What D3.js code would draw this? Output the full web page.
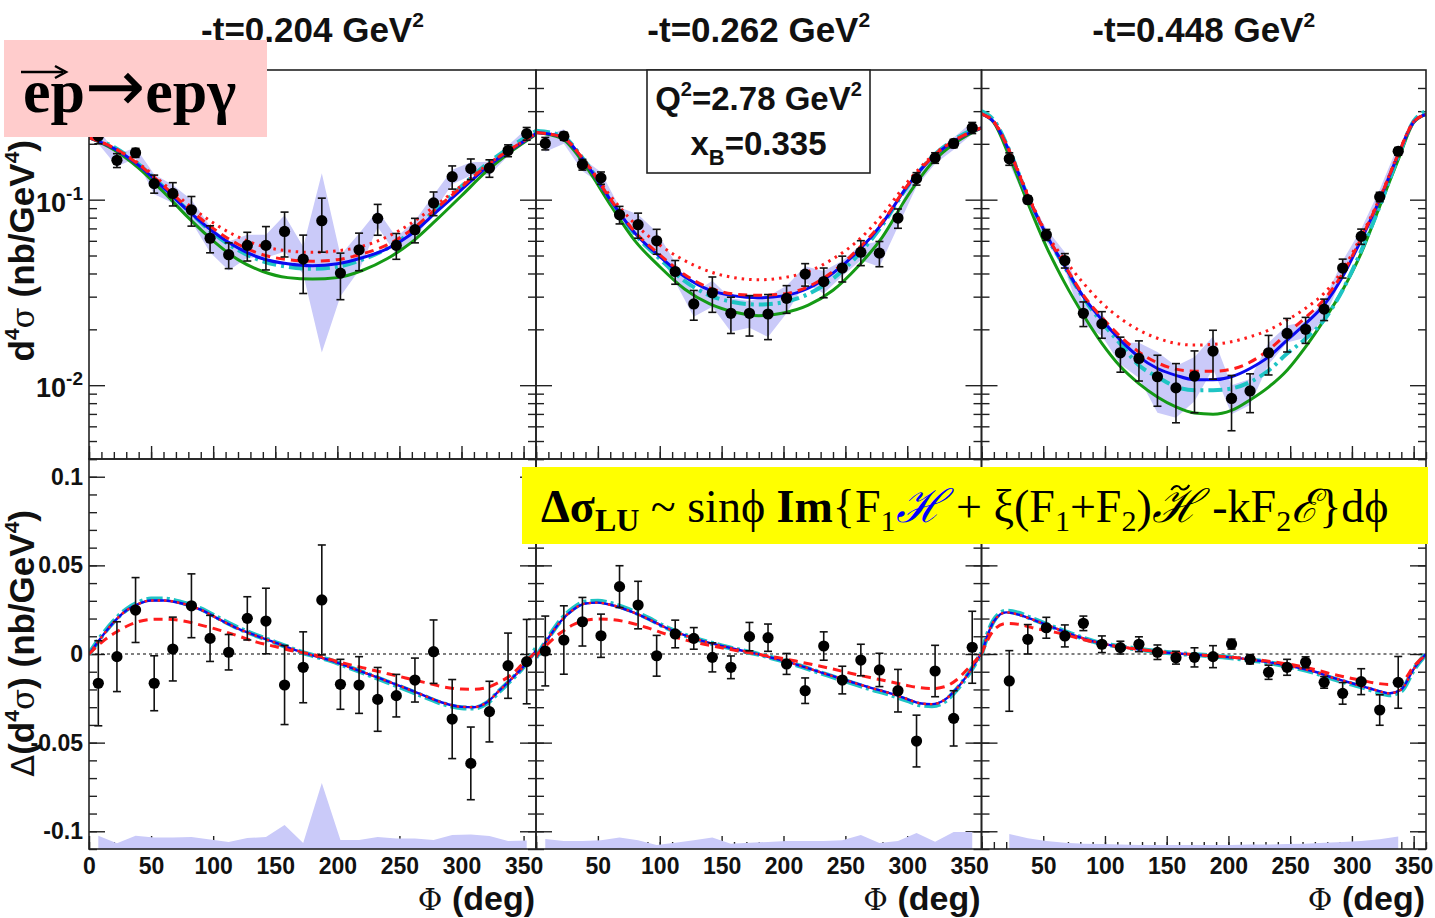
<!DOCTYPE html>
<html>
<head>
<meta charset="utf-8">
<script src="https://cdn.jsdelivr.net/npm/d3@7"></script>
<style>
  body { margin: 0; background: #fff; }
  svg { display: block; }
</style>
</head>
<body>
<svg width="1435" height="918" font-family="'Liberation Sans', Arial, sans-serif"></svg>
<script>
// Phi bin centres (deg), 15 deg bins
const phiBins = [7.5, 22.5, 37.5, 52.5, 67.5, 82.5, 97.5, 112.5, 127.5, 142.5, 157.5, 172.5,
  187.5, 202.5, 217.5, 232.5, 247.5, 262.5, 277.5, 292.5, 307.5, 322.5, 337.5, 352.5]
const tValues = ['0.204', '0.262', '0.448']

// ---- top row: d4sigma (nb/GeV^4), stat error, syst error
const xs204 = [0.22, 0.163, 0.179, 0.122, 0.108, 0.088, 0.062, 0.0505, 0.0567, 0.0567, 0.0674, 0.0478,
  0.077, 0.0402, 0.0537, 0.0793, 0.0567, 0.0689, 0.096, 0.133, 0.147, 0.148, 0.184, 0.227]
const xs204Err = [0.02, 0.014, 0.01, 0.0136, 0.0155, 0.016, 0.0103, 0.008, 0.010, 0.0149, 0.0183, 0.0166,
  0.0249, 0.0113, 0.0123, 0.015, 0.009, 0.0104, 0.014, 0.019, 0.0187, 0.016, 0.0135, 0.018]
const xs204Sys = [0.02, 0.012, 0.012, 0.015, 0.012, 0.012, 0.01, 0.009, 0.008, 0.008, 0.015, 0.008,
  0.062, 0.01, 0.012, 0.008, 0.006, 0.008, 0.01, 0.012, 0.012, 0.012, 0.012, 0.015]

const xs262 = [0.201, 0.22, 0.1546, 0.131, 0.083, 0.0733, 0.060, 0.041, 0.0274, 0.0315, 0.0244, 0.0244,
  0.0242, 0.0294, 0.0397, 0.0362, 0.0428, 0.0521, 0.0515, 0.0796, 0.1298, 0.168, 0.201, 0.244]
const xs262Err = [0.0155, 0.011, 0.0103, 0.01, 0.009, 0.0113, 0.0092, 0.006, 0.005, 0.0068, 0.0054, 0.006,
  0.0066, 0.005, 0.0055, 0.0066, 0.0068, 0.008, 0.008, 0.0095, 0.01, 0.011, 0.0104, 0.0168]
const xs262Sys = [0.02, 0.02, 0.012, 0.01, 0.008, 0.01, 0.007, 0.005, 0.004, 0.005, 0.005, 0.004,
  0.006, 0.005, 0.004, 0.005, 0.004, 0.005, 0.008, 0.008, 0.012, 0.012, 0.015, 0.018]

const xs448 = [null, 0.166, 0.1, 0.0647, 0.047, 0.0244, 0.0214, 0.01495, 0.01393, 0.0111, 0.00967, 0.0112,
  0.01527, 0.00848, 0.00931, 0.01495, 0.019, 0.02, 0.0257, 0.0428, 0.0634, 0.1035, 0.1824, null]
const xs448Err = [null, 0.0128, 0.0046, 0.0044, 0.0042, 0.0037, 0.0035, 0.0032, 0.0034, 0.0034, 0.0034, 0.0041,
  0.0045, 0.0028, 0.0022, 0.0036, 0.0039, 0.0032, 0.0034, 0.005, 0.006, 0.006, 0.0087, null]
const xs448Sys = [null, 0.01, 0.006, 0.005, 0.005, 0.003, 0.003, 0.002, 0.003, 0.004, 0.003, 0.003,
  0.003, 0.0015, 0.0015, 0.002, 0.002, 0.002, 0.003, 0.004, 0.006, 0.01, 0.015, null]

// model curves, top row
const phiTopA = [0, 20, 40, 60, 80, 100, 120, 140, 160, 180, 200, 220, 240, 260, 280, 300, 320, 340, 360]
const phiTopB = [0, 10, 22.5, 37.5, 52.5, 67.5, 82.5, 97.5, 112.5, 127.5, 142.5, 157.5, 172.5, 187.5,
  202.5, 217.5, 232.5, 247.5, 262.5, 277.5, 292.5, 307.5, 322.5, 337.5, 350, 360]

const t204Blue = [0.216, 0.189, 0.153, 0.116, 0.087, 0.0672, 0.055, 0.048, 0.0451, 0.044, 0.0451, 0.0486, 0.0543, 0.0655, 0.0861, 0.1132, 0.149, 0.186, 0.227]
const t204Dot = [0.216, 0.19, 0.157, 0.122, 0.094, 0.075, 0.063, 0.056, 0.053, 0.052, 0.053, 0.056, 0.063, 0.075, 0.094, 0.119, 0.153, 0.188, 0.227]
const t204Dash = [0.216, 0.19, 0.155, 0.119, 0.09, 0.070, 0.0575, 0.0505, 0.0475, 0.0466, 0.0475, 0.051, 0.057, 0.069, 0.090, 0.117, 0.152, 0.188, 0.227]
const t204Cyan = [0.22, 0.192, 0.155, 0.117, 0.087, 0.066, 0.0535, 0.0465, 0.0435, 0.0424, 0.0435, 0.0475, 0.0545, 0.0675, 0.0895, 0.118, 0.155, 0.193, 0.235]
const t204Green = [0.216, 0.186, 0.148, 0.110, 0.080, 0.060, 0.0475, 0.041, 0.038, 0.0373, 0.038, 0.0415, 0.048, 0.059, 0.078, 0.105, 0.142, 0.182, 0.225]

const t262Blue = [0.23, 0.219, 0.158, 0.1, 0.066, 0.0494, 0.0385, 0.0326, 0.0303, 0.0296, 0.0303, 0.0333, 0.0402, 0.0526, 0.0748, 0.118, 0.168, 0.211, 0.244]
const t262Dot = [0.23, 0.219, 0.16, 0.105, 0.074, 0.057, 0.047, 0.041, 0.038, 0.037, 0.038, 0.041, 0.048, 0.060, 0.083, 0.124, 0.172, 0.212, 0.244]
const t262Dash = [0.23, 0.219, 0.159, 0.101, 0.067, 0.0505, 0.0395, 0.0335, 0.031, 0.0305, 0.031, 0.034, 0.041, 0.054, 0.076, 0.119, 0.169, 0.212, 0.244]
const t262Cyan = [0.235, 0.222, 0.16, 0.10, 0.065, 0.048, 0.0365, 0.0305, 0.028, 0.0272, 0.028, 0.031, 0.0375, 0.050, 0.073, 0.117, 0.17, 0.215, 0.25]
const t262Green = [0.23, 0.215, 0.152, 0.094, 0.060, 0.0435, 0.033, 0.0275, 0.0248, 0.0237, 0.0245, 0.027, 0.0325, 0.0435, 0.063, 0.104, 0.158, 0.205, 0.244]

const t448Blue = [0.29, 0.262, 0.1824, 0.1042, 0.0647, 0.0436, 0.030, 0.0225, 0.0175, 0.0142, 0.0123, 0.0113, 0.0107, 0.0107, 0.0111, 0.0123, 0.0142, 0.0175, 0.0215, 0.0271, 0.0385, 0.0608, 0.1, 0.175, 0.262, 0.288]
const t448Dot = [0.29, 0.264, 0.185, 0.107, 0.066, 0.0474, 0.0355, 0.0277, 0.0229, 0.0198, 0.0179, 0.0168, 0.01645, 0.0166, 0.01714, 0.01824, 0.0198, 0.02246, 0.026, 0.0313, 0.0418, 0.0635, 0.102, 0.177, 0.263, 0.288]
const t448Dash = [0.29, 0.262, 0.183, 0.105, 0.065, 0.0442, 0.0306, 0.0232, 0.0183, 0.0151, 0.0132, 0.0122, 0.0119, 0.0119, 0.0122, 0.0133, 0.0155, 0.019, 0.0232, 0.029, 0.040, 0.062, 0.101, 0.176, 0.262, 0.288]
const t448Cyan = [0.30, 0.268, 0.185, 0.104, 0.064, 0.0432, 0.0295, 0.0218, 0.0167, 0.0128, 0.0111, 0.0098, 0.0094, 0.0094, 0.0096, 0.0104, 0.012, 0.0148, 0.0178, 0.0225, 0.0326, 0.053, 0.092, 0.17, 0.265, 0.30]
const t448Green = [0.29, 0.26, 0.171, 0.096, 0.0559, 0.0355, 0.0239, 0.0168, 0.0126, 0.0102, 0.00864, 0.00763, 0.00707, 0.00697, 0.00731, 0.00833, 0.00977, 0.01205, 0.0161, 0.0225, 0.0326, 0.0515, 0.092, 0.164, 0.26, 0.288]

// ---- bottom row: delta(d4sigma) (nb/GeV^4)
const dxs204 = [-0.0165, -0.0015, 0.0248, -0.0165, 0.0028, 0.0272, 0.0088, 0.001, 0.0201, 0.0186, -0.0175, -0.0075,
  0.0305, -0.0171, -0.0175, -0.0256, -0.0235, -0.0147, 0.0013, -0.0367, -0.0617, -0.0325, -0.0066, -0.0043]
const dxs204Err = [0.024, 0.0197, 0.0183, 0.0155, 0.018, 0.018, 0.013, 0.01, 0.0122, 0.0185, 0.0223, 0.020,
  0.031, 0.0141, 0.016, 0.018, 0.012, 0.0124, 0.0179, 0.0223, 0.0205, 0.0171, 0.0184, 0.0238]
const dxs204Sys = [0.0075, 0.0032, 0.0075, 0.0065, 0.0065, 0.0068, 0.0054, 0.004, 0.0062, 0.0068, 0.0135, 0.0034,
  0.0372, 0.0051, 0.0051, 0.0068, 0.0059, 0.0059, 0.0051, 0.0079, 0.0082, 0.0073, 0.0045, 0.0048]

const dxs262 = [0.0017, 0.0079, 0.0182, 0.0103, 0.038, 0.0276, -0.001, 0.0113, 0.0088, -0.0019, -0.0075, 0.0098,
  0.0092, -0.0056, -0.0207, 0.0045, -0.0147, -0.0034, -0.009, -0.0207, -0.0491, -0.0096, -0.0363, 0.0038]
const dxs262Err = [0.0197, 0.0193, 0.0137, 0.0122, 0.0118, 0.0134, 0.0115, 0.0078, 0.0061, 0.0082, 0.0064, 0.008,
  0.0077, 0.0059, 0.0072, 0.008, 0.0078, 0.0089, 0.0094, 0.012, 0.0146, 0.0145, 0.0156, 0.0203]
const dxs262Sys = [0.0056, 0.0045, 0.0045, 0.005, 0.0065, 0.005, 0.0023, 0.0035, 0.005, 0.0065, 0.003, 0.0035,
  0.004, 0.0045, 0.0045, 0.0045, 0.005, 0.0079, 0.0034, 0.0045, 0.009, 0.0041, 0.0096, 0.0096]

const dxs448 = [null, -0.0152, 0.0083, 0.0148, 0.0102, 0.0173, 0.0055, 0.0036, 0.0055, 0.001, -0.0021, -0.0019,
  -0.0015, 0.0056, -0.003, -0.0103, -0.0075, -0.0047, -0.016, -0.0222, -0.0156, -0.0316, -0.016, null]
const dxs448Err = [null, 0.0171, 0.0083, 0.0059, 0.0062, 0.0041, 0.0047, 0.0036, 0.0042, 0.0041, 0.0036, 0.0054,
  0.0062, 0.0028, 0.0026, 0.004, 0.0045, 0.0031, 0.0033, 0.0061, 0.0073, 0.0086, 0.0146, null]
const dxs448Sys = [null, 0.0085, 0.006, 0.0045, 0.0035, 0.003, 0.0028, 0.0025, 0.0023, 0.0023, 0.0022, 0.0022,
  0.0022, 0.0022, 0.0025, 0.0025, 0.0028, 0.003, 0.0035, 0.004, 0.0045, 0.0055, 0.007, null]

// model curves, bottom row (the red dotted model lies on the blue one here)
const phiBot = [0, 10, 20, 30, 40, 50, 60, 75, 90, 105, 120, 135, 150, 165, 180, 195, 210, 225, 240, 255, 270, 285, 300, 310, 320, 330, 340, 350, 360]

const b204Blue = [0, 0.0095, 0.018, 0.0245, 0.0283, 0.0302, 0.0302, 0.0285, 0.025, 0.0195, 0.0143, 0.0102, 0.0064, 0.0025, -0.0008, -0.0037, -0.0075, -0.0113, -0.0153, -0.0193, -0.0235, -0.0275, -0.0298, -0.030, -0.0275, -0.021, -0.0142, -0.007, 0.002]
const b204Dash = [0, 0.0065, 0.0115, 0.0155, 0.0183, 0.0195, 0.0196, 0.0188, 0.0163, 0.0135, 0.0102, 0.0067, 0.0042, 0.0016, -0.0002, -0.0032, -0.006, -0.0085, -0.011, -0.0135, -0.016, -0.0185, -0.0198, -0.0199, -0.019, -0.016, -0.0118, -0.005, 0.001]
const b204Cyan = [0, 0.010, 0.0185, 0.025, 0.029, 0.031, 0.031, 0.029, 0.0255, 0.020, 0.0147, 0.0104, 0.0065, 0.0025, -0.0008, -0.0038, -0.0077, -0.0116, -0.0157, -0.0198, -0.024, -0.028, -0.0303, -0.0305, -0.0279, -0.0213, -0.0145, -0.007, 0.003]

const b262Blue = [-0.002, 0.009, 0.0185, 0.025, 0.0285, 0.029, 0.0278, 0.0245, 0.020, 0.0148, 0.0106, 0.0073, 0.0046, 0.0021, -0.0002, -0.0029, -0.0058, -0.0092, -0.0125, -0.0158, -0.019, -0.0219, -0.0254, -0.0278, -0.0283, -0.026, -0.0195, -0.0105, 0.0005]
const b262Dash = [-0.001, 0.006, 0.012, 0.0165, 0.019, 0.0198, 0.0195, 0.0178, 0.0148, 0.0112, 0.008, 0.0056, 0.0035, 0.0015, -0.0002, -0.002, -0.004, -0.0062, -0.0085, -0.011, -0.0133, -0.0155, -0.0178, -0.019, -0.0195, -0.0185, -0.0145, -0.0075, 0.0]
const b262Cyan = [-0.002, 0.0092, 0.019, 0.0257, 0.0293, 0.0298, 0.0285, 0.025, 0.0204, 0.015, 0.0107, 0.0074, 0.0046, 0.0021, -0.0002, -0.003, -0.006, -0.0095, -0.0129, -0.0163, -0.0196, -0.0226, -0.0262, -0.0286, -0.0292, -0.0268, -0.02, -0.0107, 0.0005]

const b448Blue = [0.0, 0.0185, 0.0235, 0.0222, 0.0198, 0.0172, 0.0145, 0.0105, 0.0072, 0.0049, 0.0033, 0.0019, 0.0008, 0.0, -0.0007, -0.0015, -0.0025, -0.0038, -0.0055, -0.0075, -0.01, -0.0135, -0.0165, -0.0185, -0.0205, -0.0222, -0.020, -0.0085, 0.0]
const b448Dash = [0.0, 0.0135, 0.0172, 0.0168, 0.015, 0.0135, 0.0122, 0.0095, 0.0068, 0.0048, 0.0033, 0.002, 0.0009, 0.0, -0.0007, -0.0014, -0.0023, -0.0034, -0.0048, -0.0065, -0.0088, -0.0115, -0.0138, -0.0152, -0.0165, -0.0172, -0.016, -0.007, 0.0]
const b448Cyan = [0.0, 0.019, 0.0242, 0.023, 0.0202, 0.0175, 0.0147, 0.0107, 0.0073, 0.005, 0.0034, 0.002, 0.0009, 0.0, -0.0007, -0.0016, -0.0027, -0.004, -0.0058, -0.0079, -0.0105, -0.014, -0.017, -0.019, -0.0212, -0.023, -0.0208, -0.0088, 0.0]

// axis ticks
const logMajor = [0.01, 0.1]
const logMinor = [0.004, 0.005, 0.006, 0.007, 0.008, 0.009, 0.02, 0.03, 0.04, 0.05, 0.06, 0.07, 0.08, 0.09, 0.2, 0.3, 0.4]
const linMajor = [-0.1, -0.05, 0, 0.05, 0.1]

const SANS = "'Liberation Sans', Arial, sans-serif"
const SERIF = "'Liberation Serif', 'Times New Roman', 'DejaVu Serif', serif"

const svg = d3.select('svg')
const panelX = [[89, 536], [536, 981.5], [981.5, 1426]]
const yTop = d3.scaleLog().domain([0.004, 0.5]).range([459, 70])
const yBot = d3.scaleLinear().domain([-0.11, 0.11]).range([849, 459])

const topPanels = [
  { y: xs204, err: xs204Err, sys: xs204Sys, grid: phiTopA, c: { green: t204Green, cyan: t204Cyan, blue: t204Blue, dash: t204Dash, dot: t204Dot } },
  { y: xs262, err: xs262Err, sys: xs262Sys, grid: phiTopA, c: { green: t262Green, cyan: t262Cyan, blue: t262Blue, dash: t262Dash, dot: t262Dot } },
  { y: xs448, err: xs448Err, sys: xs448Sys, grid: phiTopB, c: { green: t448Green, cyan: t448Cyan, blue: t448Blue, dash: t448Dash, dot: t448Dot } }
]
const botPanels = [
  { y: dxs204, err: dxs204Err, sys: dxs204Sys, grid: phiBot, c: { cyan: b204Cyan, blue: b204Blue, dot: b204Blue, dash: b204Dash } },
  { y: dxs262, err: dxs262Err, sys: dxs262Sys, grid: phiBot, c: { cyan: b262Cyan, blue: b262Blue, dot: b262Blue, dash: b262Dash } },
  { y: dxs448, err: dxs448Err, sys: dxs448Sys, grid: phiBot, c: { cyan: b448Cyan, blue: b448Blue, dot: b448Blue, dash: b448Dash } }
]

const topStyle = {
  green: { stroke: '#159a15', width: 3, dash: null },
  cyan: { stroke: '#1ec4c4', width: 4, dash: '14,5,3,5' },
  blue: { stroke: '#0b0bf0', width: 3, dash: null },
  dash: { stroke: '#ff1c1c', width: 3, dash: '9,6' },
  dot: { stroke: '#ff1c1c', width: 3, dash: '2.5,5' }
}
const botStyle = {
  cyan: { stroke: '#1ec4c4', width: 5, dash: '16,4,3,4' },
  blue: { stroke: '#0b0bf0', width: 2.4, dash: null },
  dot: { stroke: '#ff1c1c', width: 2.4, dash: '2.5,4' },
  dash: { stroke: '#ff1c1c', width: 3, dash: '9,6' }
}
const bandColor = '#cacaf9'
const frameColor = '#222'

const defs = svg.append('defs')

function drawTicks (g, x, y, yTicks) {
  const tick = (sel) => sel.select('.domain').remove()
  const bottom = y.range()[0]
  const [x0, x1] = x.range()
  g.append('g').attr('transform', `translate(0,${bottom})`)
    .call(d3.axisBottom(x).tickValues(d3.range(0, 361, 10)).tickSize(-7).tickFormat('')).call(tick)
  g.append('g').attr('transform', `translate(0,${bottom})`)
    .call(d3.axisBottom(x).tickValues(d3.range(0, 351, 50)).tickSize(-13).tickFormat('')).call(tick)
  for (const [pos, axis] of [[x0, d3.axisLeft], [x1, d3.axisRight]]) {
    g.append('g').attr('transform', `translate(${pos},0)`)
      .call(axis(y).tickValues(yTicks.minor).tickSize(-8).tickFormat('')).call(tick)
    g.append('g').attr('transform', `translate(${pos},0)`)
      .call(axis(y).tickValues(yTicks.major).tickSize(-16).tickFormat('')).call(tick)
  }
  g.selectAll('.tick line').attr('stroke', frameColor).attr('stroke-width', 1.4)
}

function drawCurves (g, x, y, cfg, styles, clipId) {
  const cg = g.append('g').attr('clip-path', `url(#${clipId})`)
  for (const key of Object.keys(styles)) {
    const st = styles[key]
    const line = d3.line()
      .x((d, i) => x(cfg.grid[i]))
      .y(d => y(d))
      .curve(d3.curveMonotoneX)
    cg.append('path')
      .attr('d', line(cfg.c[key]))
      .attr('fill', 'none')
      .attr('stroke', st.stroke)
      .attr('stroke-width', st.width)
      .attr('stroke-dasharray', st.dash)
  }
}

function drawPoints (g, x, y, cfg) {
  const pts = phiBins.map((phi, i) => ({ phi, v: cfg.y[i], e: cfg.err[i] })).filter(d => d.v !== null)
  const eb = g.append('g').attr('stroke', '#111').attr('stroke-width', 1.6)
  pts.forEach(d => {
    const xx = x(d.phi)
    const ya = y(d.v + d.e), yb = y(d.v - d.e)
    eb.append('line').attr('x1', xx).attr('x2', xx).attr('y1', ya).attr('y2', yb)
    eb.append('line').attr('x1', xx - 4).attr('x2', xx + 4).attr('y1', ya).attr('y2', ya)
    eb.append('line').attr('x1', xx - 4).attr('x2', xx + 4).attr('y1', yb).attr('y2', yb)
  })
  g.append('g').selectAll('circle').data(pts).enter().append('circle')
    .attr('cx', d => x(d.phi)).attr('cy', d => y(d.v)).attr('r', 5.6).attr('fill', '#000')
}

function bandData (cfg) {
  return phiBins.map((phi, i) => ({ phi, v: cfg.y[i], s: cfg.sys[i] })).filter(d => d.v !== null)
}

panelX.forEach((px, p) => {
  const x = d3.scaleLinear().domain([0, 360]).range(px)

  // ---- top panel
  const cfgT = topPanels[p]
  const gT = svg.append('g')
  defs.append('clipPath').attr('id', 'clipT' + p).append('rect')
    .attr('x', px[0]).attr('y', 70).attr('width', px[1] - px[0]).attr('height', 389)
  gT.append('path')
    .datum(bandData(cfgT))
    .attr('fill', bandColor)
    .attr('d', d3.area().x(d => x(d.phi)).y0(d => yTop(d.v - d.s)).y1(d => yTop(d.v + d.s)))
  drawTicks(gT, x, yTop, { major: logMajor, minor: logMinor })
  drawCurves(gT, x, yTop, cfgT, topStyle, 'clipT' + p)
  drawPoints(gT, x, yTop, cfgT)
  gT.append('rect').attr('x', px[0]).attr('y', 70).attr('width', px[1] - px[0]).attr('height', 389)
    .attr('fill', 'none').attr('stroke', frameColor).attr('stroke-width', 1.6)

  // title
  const tt = svg.append('text').attr('x', (px[0] + px[1]) / 2).attr('y', 42)
    .attr('text-anchor', 'middle').attr('font-size', 35).attr('font-weight', 'bold').attr('fill', '#111')
  tt.append('tspan').text('-t=' + tValues[p] + ' GeV')
  tt.append('tspan').attr('dy', -15).attr('font-size', 21).text('2')

  // ---- bottom panel
  const cfgB = botPanels[p]
  const gB = svg.append('g')
  defs.append('clipPath').attr('id', 'clipB' + p).append('rect')
    .attr('x', px[0]).attr('y', 459).attr('width', px[1] - px[0]).attr('height', 390)
  drawTicks(gB, x, yBot, { major: linMajor, minor: d3.range(-11, 12).map(i => i / 100) })
  const yMin = yBot.domain()[0]
  gB.append('path')
    .datum(bandData(cfgB))
    .attr('fill', bandColor)
    .attr('d', d3.area().x(d => x(d.phi)).y0(yBot(yMin)).y1(d => yBot(yMin + d.s)))
  gB.append('line').attr('x1', px[0]).attr('x2', px[1]).attr('y1', yBot(0)).attr('y2', yBot(0))
    .attr('stroke', '#000').attr('stroke-width', 1.2).attr('stroke-dasharray', '3,3')
  drawCurves(gB, x, yBot, cfgB, botStyle, 'clipB' + p)
  drawPoints(gB, x, yBot, cfgB)
  gB.append('rect').attr('x', px[0]).attr('y', 459).attr('width', px[1] - px[0]).attr('height', 390)
    .attr('fill', 'none').attr('stroke', frameColor).attr('stroke-width', 1.6)

  // x tick labels
  gB.append('g').attr('transform', 'translate(0,849)')
    .call(d3.axisBottom(x).tickValues(d3.range(p === 0 ? 0 : 50, 351, 50)).tickSize(0).tickPadding(9))
    .call(s => s.select('.domain').remove())
    .selectAll('text').attr('font-size', 23).attr('font-weight', 'bold').attr('fill', '#111')
    .attr('font-family', SANS)

  // x title
  const xt = svg.append('text').attr('x', px[1] - 1).attr('y', 910).attr('text-anchor', 'end')
    .attr('font-size', 34).attr('fill', '#111')
  xt.append('tspan').attr('font-family', "'DejaVu Serif', serif").attr('font-size', 30).text('Φ')
  xt.append('tspan').attr('font-weight', 'bold').text(' (deg)')
})

// y tick labels, left column
const gl = svg.append('g').attr('fill', '#111').attr('font-weight', 'bold')
logMajor.forEach(v => {
  const t = gl.append('text').attr('x', 83).attr('y', yTop(v) + 12).attr('text-anchor', 'end').attr('font-size', 27)
  t.append('tspan').text('10')
  t.append('tspan').attr('dy', -12).attr('font-size', 19).text(v === 0.1 ? '-1' : '-2')
})
linMajor.forEach(v => {
  gl.append('text').attr('x', 83).attr('y', yBot(v) + 8).attr('text-anchor', 'end').attr('font-size', 23)
    .text(String(v))
})

// y titles
const ytT = svg.append('text').attr('transform', 'translate(34,140) rotate(-90)').attr('text-anchor', 'end')
  .attr('font-size', 35).attr('fill', '#111')
ytT.append('tspan').attr('font-weight', 'bold').text('d')
ytT.append('tspan').attr('font-weight', 'bold').attr('font-size', 21).attr('dy', -15).text('4')
ytT.append('tspan').attr('dy', 15).attr('font-family', "'DejaVu Serif', serif").attr('font-size', 31).text('σ')
ytT.append('tspan').attr('font-weight', 'bold').text(' (nb/GeV')
ytT.append('tspan').attr('font-weight', 'bold').attr('font-size', 21).attr('dy', -15).text('4')
ytT.append('tspan').attr('font-weight', 'bold').attr('dy', 15).text(')')

const ytB = svg.append('text').attr('transform', 'translate(34,510) rotate(-90)').attr('text-anchor', 'end')
  .attr('font-size', 35).attr('fill', '#111')
ytB.append('tspan').attr('font-family', "'DejaVu Sans', sans-serif").attr('font-size', 32).text('Δ')
ytB.append('tspan').attr('font-weight', 'bold').text('(d')
ytB.append('tspan').attr('font-weight', 'bold').attr('font-size', 21).attr('dy', -15).text('4')
ytB.append('tspan').attr('dy', 15).attr('font-family', "'DejaVu Serif', serif").attr('font-size', 31).text('σ')
ytB.append('tspan').attr('font-weight', 'bold').text(') (nb/GeV')
ytB.append('tspan').attr('font-weight', 'bold').attr('font-size', 21).attr('dy', -15).text('4')
ytB.append('tspan').attr('font-weight', 'bold').attr('dy', 15).text(')')

// kinematics box
svg.append('rect').attr('x', 647).attr('y', 70).attr('width', 223).attr('height', 103)
  .attr('fill', '#fff').attr('stroke', frameColor).attr('stroke-width', 1.6)
const q2 = svg.append('text').attr('x', 758.5).attr('y', 110).attr('text-anchor', 'middle')
  .attr('font-size', 33).attr('font-weight', 'bold').attr('fill', '#111')
q2.append('tspan').text('Q')
q2.append('tspan').attr('dy', -14).attr('font-size', 20).text('2')
q2.append('tspan').attr('dy', 14).text('=2.78 GeV')
q2.append('tspan').attr('dy', -14).attr('font-size', 20).text('2')
const xb = svg.append('text').attr('x', 758.5).attr('y', 155).attr('text-anchor', 'middle')
  .attr('font-size', 33).attr('font-weight', 'bold').attr('fill', '#111')
xb.append('tspan').text('x')
xb.append('tspan').attr('dy', 10).attr('font-size', 22).text('B')
xb.append('tspan').attr('dy', -10).text('=0.335')

// reaction label
svg.append('rect').attr('x', 4).attr('y', 40).attr('width', 263).attr('height', 97).attr('fill', '#ffcccc')
const rx = svg.append('text').attr('x', 23).attr('y', 112)
  .attr('font-family', SERIF).attr('font-weight', 'bold')
  .attr('font-size', 62).attr('fill', '#000')
rx.append('tspan').text('ep')
rx.append('tspan').attr('font-family', "'DejaVu Sans', sans-serif").attr('font-weight', 'normal')
  .attr('font-size', 72).attr('dy', -1).text('→')
rx.append('tspan').attr('dy', 1).text('epγ')
svg.append('path').attr('d', 'M21,72 H63').attr('stroke', '#000').attr('stroke-width', 2.5)
svg.append('path').attr('d', 'M55,66 L66,72 L55,78').attr('fill', 'none').attr('stroke', '#000').attr('stroke-width', 2.5)

// formula box
svg.append('rect').attr('x', 522).attr('y', 467).attr('width', 906).attr('height', 77).attr('fill', '#ffff00')
const fm = svg.append('text').attr('x', 541).attr('y', 522)
  .attr('font-family', SERIF).attr('font-size', 46).attr('fill', '#000')
const part = (txt, o = {}) => {
  const s = fm.append('tspan').text(txt)
  Object.entries(o).forEach(([k, v]) => s.attr(k, v))
  return s
}
part('Δσ', { 'font-weight': 'bold' })
part('LU', { 'font-weight': 'bold', 'font-size': 32, dy: 9 })
part(' ~ sinϕ ', { dy: -9 })
part('Im', { 'font-weight': 'bold' })
part('{F')
part('1', { 'font-size': 30, dy: 9 })
part('ℋ', { dy: -9, fill: '#0000ff', 'font-style': 'italic' })
part(' + ξ(F')
part('1', { 'font-size': 30, dy: 9 })
part('+F', { dy: -9 })
part('2', { 'font-size': 30, dy: 9 })
part(')', { dy: -9 })
const hTilde = part('ℋ', { 'font-style': 'italic' })
part(' -kF')
part('2', { 'font-size': 30, dy: 9 })
part('ℰ', { dy: -9, 'font-style': 'italic' })
part('}dϕ')

// tilde accent over the second script H
const ext = hTilde.node().getExtentOfChar(0)
const tx = ext.x + ext.width / 2 + 4, ty = ext.y + 6
svg.append('path')
  .attr('d', `M${tx - 9},${ty + 3} C${tx - 5},${ty - 3} ${tx - 1},${ty - 1} ${tx},${ty + 1} S${tx + 6},${ty + 4} ${tx + 9},${ty - 2}`)
  .attr('fill', 'none').attr('stroke', '#000').attr('stroke-width', 2)
</script>
</body>
</html>
